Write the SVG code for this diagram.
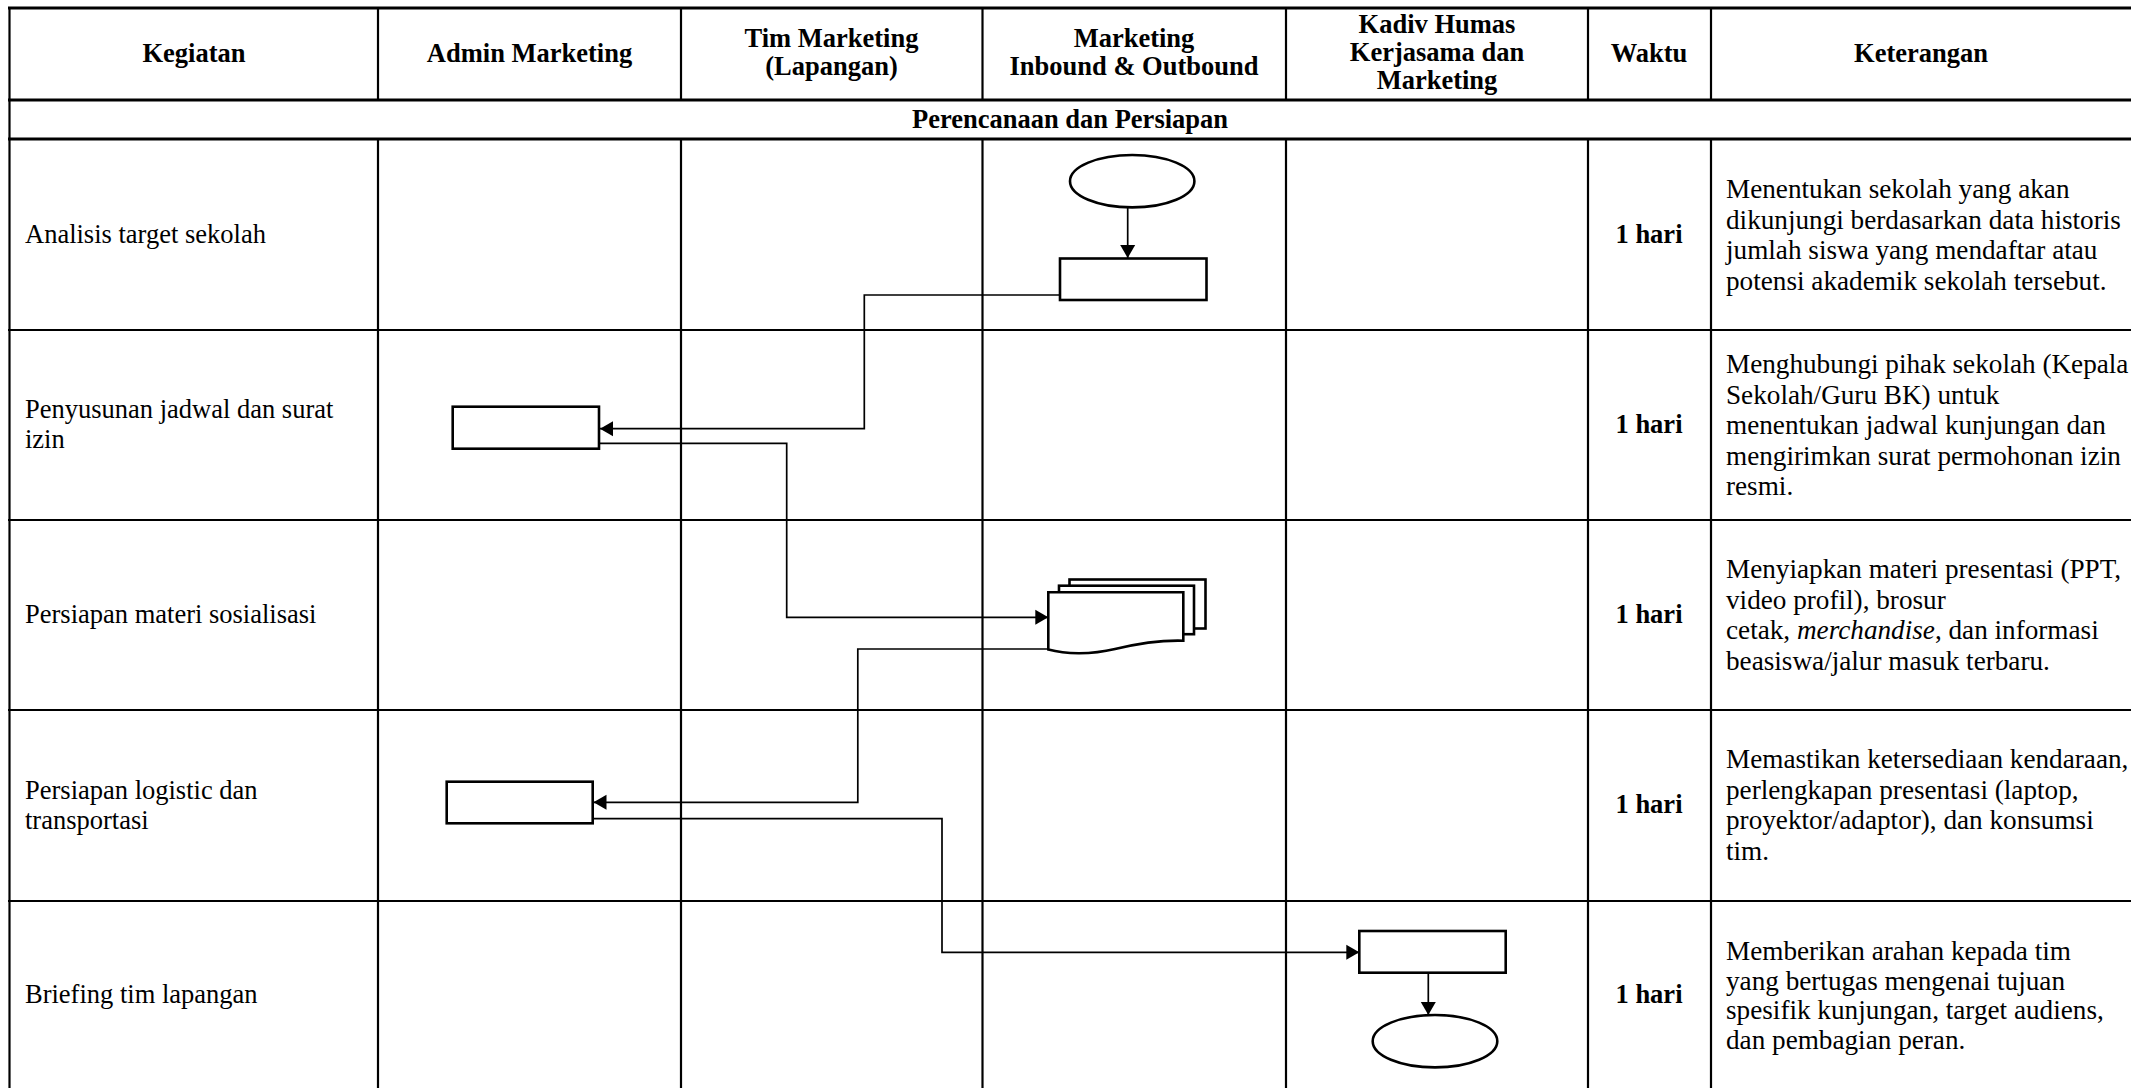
<svg xmlns="http://www.w3.org/2000/svg" width="2131" height="1088" viewBox="0 0 2131 1088">
<style>
  text { font-family: "Liberation Serif", "Times New Roman", serif; font-size: 26.5px; fill: #000; }
  .b { font-weight: bold; }
  .c { text-anchor: middle; }
  .k { font-size: 27.2px; }
  .grid line { stroke: #000; stroke-width: 2.2; }
  .grid .thick { stroke-width: 3; }
  .shape { fill: #fff; stroke: #000; stroke-width: 2.6; }
  .conn { fill: none; stroke: #000; stroke-width: 1.7; }
</style>
<defs>
  <marker id="arr" markerUnits="userSpaceOnUse" markerWidth="14" markerHeight="16" refX="13" refY="8" orient="auto">
    <path d="M0,0.5 L13,8 L0,15.5 z" fill="#000"/>
  </marker>
</defs>
<rect x="0" y="0" width="2131" height="1088" fill="#fff"/>

<g id="table" class="grid">
  <line class="thick" x1="8" y1="8" x2="2131" y2="8"/>
  <line class="thick" x1="8" y1="100" x2="2131" y2="100"/>
  <line class="thick" x1="8" y1="139" x2="2131" y2="139"/>
  <line x1="8" y1="330" x2="2131" y2="330"/>
  <line x1="8" y1="520" x2="2131" y2="520"/>
  <line x1="8" y1="710" x2="2131" y2="710"/>
  <line x1="8" y1="901" x2="2131" y2="901"/>
  <line x1="9.5" y1="7" x2="9.5" y2="1088"/>
  <line x1="378" y1="7" x2="378" y2="100"/>
  <line x1="681" y1="7" x2="681" y2="100"/>
  <line x1="982.5" y1="7" x2="982.5" y2="100"/>
  <line x1="1286" y1="7" x2="1286" y2="100"/>
  <line x1="1588" y1="7" x2="1588" y2="100"/>
  <line x1="1711" y1="7" x2="1711" y2="100"/>
  <line x1="378" y1="139" x2="378" y2="1088"/>
  <line x1="681" y1="139" x2="681" y2="1088"/>
  <line x1="982.5" y1="139" x2="982.5" y2="1088"/>
  <line x1="1286" y1="139" x2="1286" y2="1088"/>
  <line x1="1588" y1="139" x2="1588" y2="1088"/>
  <line x1="1711" y1="139" x2="1711" y2="1088"/>
</g>

<g id="headers">
  <text class="b c" x="194" y="62">Kegiatan</text>
  <text class="b c" x="529.5" y="62">Admin Marketing</text>
  <text class="b c" x="831.5" y="47">Tim Marketing</text>
  <text class="b c" x="831.5" y="75">(Lapangan)</text>
  <text class="b c" x="1134" y="47">Marketing</text>
  <text class="b c" x="1134" y="75">Inbound &amp; Outbound</text>
  <text class="b c" x="1437" y="33">Kadiv Humas</text>
  <text class="b c" x="1437" y="61">Kerjasama dan</text>
  <text class="b c" x="1437" y="89">Marketing</text>
  <text class="b c" x="1649" y="62">Waktu</text>
  <text class="b c" x="1921" y="62">Keterangan</text>
  <text class="b c" x="1070" y="128">Perencanaan dan Persiapan</text>
</g>

<g id="kegiatan">
  <text x="25" y="243">Analisis target sekolah</text>
  <text x="25" y="418">Penyusunan jadwal dan surat</text>
  <text x="25" y="448">izin</text>
  <text x="25" y="623">Persiapan materi sosialisasi</text>
  <text x="25" y="799">Persiapan logistic dan</text>
  <text x="25" y="829">transportasi</text>
  <text x="25" y="1003">Briefing tim lapangan</text>
</g>

<g id="waktu">
  <text class="b c" x="1649" y="243">1 hari</text>
  <text class="b c" x="1649" y="433">1 hari</text>
  <text class="b c" x="1649" y="623">1 hari</text>
  <text class="b c" x="1649" y="813">1 hari</text>
  <text class="b c" x="1649" y="1003">1 hari</text>
</g>

<g id="keterangan" class="k">
  <text class="k" x="1726" y="198">Menentukan sekolah yang akan</text>
  <text class="k" x="1726" y="228.5">dikunjungi berdasarkan data historis</text>
  <text class="k" x="1726" y="259">jumlah siswa yang mendaftar atau</text>
  <text class="k" x="1726" y="289.5">potensi akademik sekolah tersebut.</text>

  <text class="k" x="1726" y="373">Menghubungi pihak sekolah (Kepala</text>
  <text class="k" x="1726" y="403.5">Sekolah/Guru BK) untuk</text>
  <text class="k" x="1726" y="434">menentukan jadwal kunjungan dan</text>
  <text class="k" x="1726" y="464.5">mengirimkan surat permohonan izin</text>
  <text class="k" x="1726" y="495">resmi.</text>

  <text class="k" x="1726" y="578">Menyiapkan materi presentasi (PPT,</text>
  <text class="k" x="1726" y="608.5">video profil), brosur</text>
  <text class="k" x="1726" y="639">cetak, <tspan font-style="italic">merchandise</tspan>, dan informasi</text>
  <text class="k" x="1726" y="669.5">beasiswa/jalur masuk terbaru.</text>

  <text class="k" x="1726" y="768">Memastikan ketersediaan kendaraan,</text>
  <text class="k" x="1726" y="798.5">perlengkapan presentasi (laptop,</text>
  <text class="k" x="1726" y="829">proyektor/adaptor), dan konsumsi</text>
  <text class="k" x="1726" y="859.5">tim.</text>

  <text class="k" x="1726" y="960">Memberikan arahan kepada tim</text>
  <text class="k" x="1726" y="989.5">yang bertugas mengenai tujuan</text>
  <text class="k" x="1726" y="1019">spesifik kunjungan, target audiens,</text>
  <text class="k" x="1726" y="1048.5">dan pembagian peran.</text>
</g>

<g id="connectors">
  <path class="conn" d="M1127.7,207.5 V258" marker-end="url(#arr)"/>
  <path class="conn" d="M1060,295 H864.3 V428.7 H600" marker-end="url(#arr)"/>
  <path class="conn" d="M599,443.3 H786.7 V617.3 H1048.3" marker-end="url(#arr)"/>
  <path class="conn" d="M1048.3,649 H857.8 V802.3 H593.5" marker-end="url(#arr)"/>
  <path class="conn" d="M592.7,818.7 H942 V952.3 H1359.3" marker-end="url(#arr)"/>
  <path class="conn" d="M1428.3,973 V1015" marker-end="url(#arr)"/>
</g>

<g id="start">
  <ellipse class="shape" cx="1132.2" cy="181.2" rx="62.2" ry="26.2"/>
</g>
<g id="analisis">
  <rect class="shape" x="1060" y="258.5" width="146.5" height="41.5"/>
</g>
<g id="penyusunan">
  <rect class="shape" x="452.7" y="406.7" width="146.3" height="42"/>
</g>
<g id="materi">
  <rect class="shape" x="1069.5" y="579.5" width="136" height="49"/>
  <rect class="shape" x="1059" y="585.7" width="135" height="48.5"/>
  <path class="shape" d="M1048.3,592.3 H1183.3 V640.7 C1160,640 1140,643 1115,649 C1090,655 1065,654 1048.3,649.5 Z"/>
</g>
<g id="logistik">
  <rect class="shape" x="446.7" y="781.7" width="146" height="41.6"/>
</g>
<g id="briefing">
  <rect class="shape" x="1359.3" y="931" width="146.4" height="41.7"/>
</g>
<g id="end">
  <ellipse class="shape" cx="1435" cy="1041.2" rx="62.3" ry="26.2"/>
</g>
</svg>
